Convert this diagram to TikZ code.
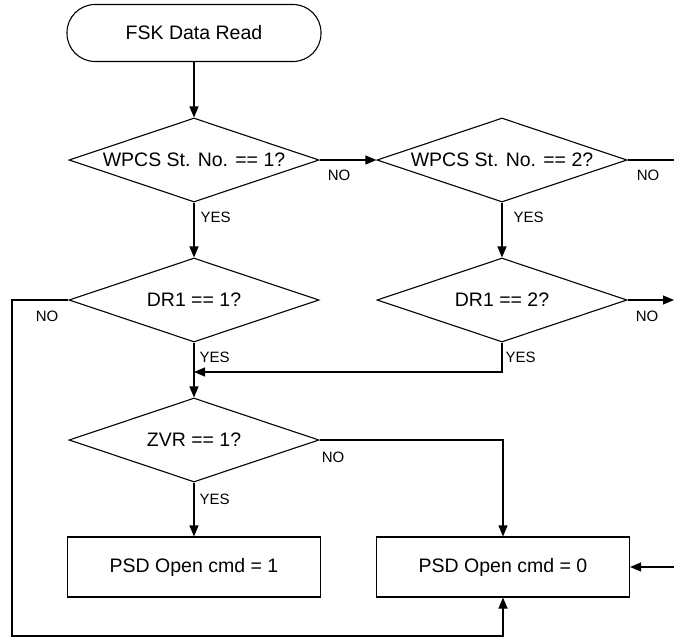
\documentclass[tikz,border=0pt]{standalone}
\usepackage{fontspec}
\setmainfont{Liberation Sans}
\usetikzlibrary{shapes.geometric,arrows.meta}
\begin{document}
\begin{tikzpicture}[x=1pt,y=-1pt,
  line width=1.1pt,
  every node/.style={font=\fontsize{19.5}{22}\selectfont},
  decision/.style={draw, diamond, aspect=2.98, inner sep=0pt, minimum width=250pt, minimum height=84pt},
  terminal/.style={draw, rectangle, rounded corners=28pt, minimum width=254pt, minimum height=57pt},
  process/.style={draw, rectangle, minimum width=253pt, minimum height=60pt},
  lbl/.style={font=\fontsize{15}{17}\selectfont, inner sep=0pt},
  arr/.style={-{Triangle[length=11pt,width=9pt]}}
]
\useasboundingbox (0,0) rectangle (674,638);
\node[terminal] (start) at (194,33) {FSK Data Read};
\node[decision] (d1) at (194,160) {WPCS St. No. == 1?};
\node[decision] (d2) at (502,160) {WPCS St. No. == 2?};
\node[decision] (dr1) at (194,300) {DR1 == 1?};
\node[decision] (dr2) at (502,300) {DR1 == 2?};
\node[decision] (zvr) at (194,440) {ZVR == 1?};
\node[process] (b1) at (194,567) {PSD Open cmd = 1};
\node[process] (b2) at (503,567) {PSD Open cmd = 0};
\coordinate (merge) at (194,372);
\coordinate (e1) at (674,160);
\coordinate (e2) at (674,300);
\coordinate (e3) at (674,567);
\coordinate (lt) at (12,300);
\coordinate (lb) at (12,636);

\draw[arr] (start.south) -- (d1.north);
\draw[arr] (d1.east) -- (d2.west);
\draw (d2.east) -- (e1);
\draw[arr] (d1.south) -- (dr1.north);
\draw[arr] (d2.south) -- (dr2.north);
\draw[arr] (dr2.east) -- (e2);
\draw[arr] (dr1.west) -- (lt) -- (lb) -- (lb -| b2.south) -- (b2.south);
\draw[arr] (dr1.south) -- (zvr.north);
\draw[arr] (dr2.south) -- (dr2.south |- merge) -- (merge);
\draw[arr] (zvr.east) -- (zvr.east -| b2.north) -- (b2.north);
\draw[arr] (zvr.south) -- (b1.north);
\draw[arr] (e3) -- (b2.east);

\node[lbl] at (339,175) {NO};
\node[lbl] at (648,175) {NO};
\node[lbl] at (647,316) {NO};
\node[lbl] at (47,316) {NO};
\node[lbl] at (333,457) {NO};
\node[lbl, anchor=west] at (200,217) {YES};
\node[lbl, anchor=west] at (513,217) {YES};
\node[lbl, anchor=west] at (199,357) {YES};
\node[lbl, anchor=west] at (505,357) {YES};
\node[lbl, anchor=west] at (199,499) {YES};
\end{tikzpicture}
\end{document}
